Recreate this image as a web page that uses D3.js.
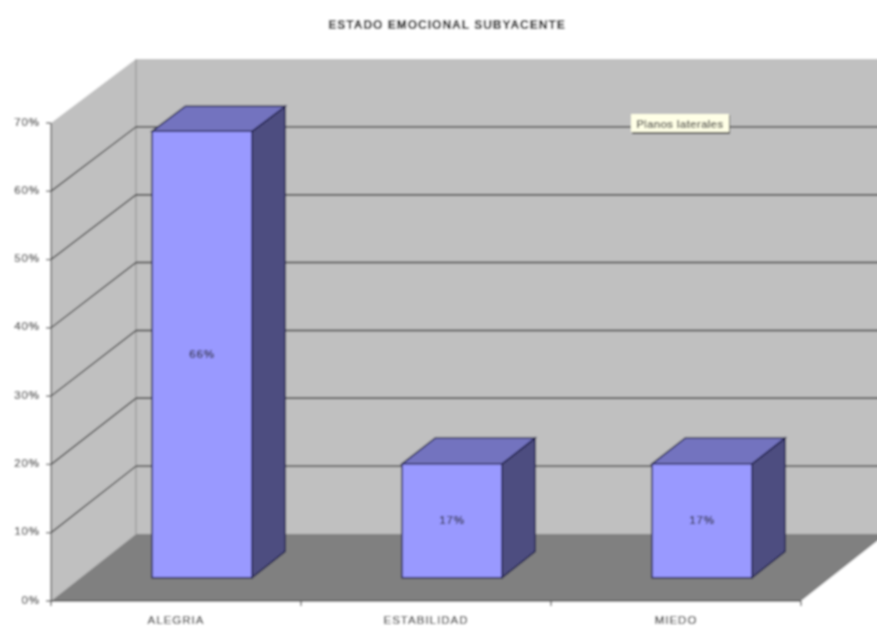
<!DOCTYPE html>
<html><head><meta charset="utf-8">
<style>html,body{margin:0;padding:0;background:#fff}svg{display:block}text{font-family:"Liberation Sans",Arial,sans-serif;stroke:currentColor;stroke-width:.15}</style>
<script src="https://cdn.jsdelivr.net/npm/d3@7"></script></head>
<body><script>
const categories = ["ALEGRIA", "ESTABILIDAD", "MIEDO"];
const values = [65.5, 16.7, 16.7];
const valueLabels = ["66%", "17%", "17%"];
const yTicks = [0, 10, 20, 30, 40, 50, 60, 70];
const titleText = "ESTADO EMOCIONAL SUBYACENTE";
const noteText = "Planos laterales";

const W = 877, H = 626;
const svg = d3.select("body").append("svg").attr("width", W).attr("height", H);
const defs = svg.append("defs");
defs.append("filter").attr("id", "soft").attr("x", 0).attr("y", 0).attr("width", 1).attr("height", 1)
  .append("feGaussianBlur").attr("stdDeviation", 0.8);
const root = svg.append("g").attr("filter", "url(#soft)");
root.append("rect").attr("width", W).attr("height", H).attr("fill", "#fff");

const y = d3.scaleLinear().domain([0, 70]).range([601, 123]);
const yBack = d3.scaleLinear().domain([0, 70]).range([534, 59]);
const xAxis = d3.scaleBand().domain(categories).range([51, 801]);
const xBar = d3.scaleBand().domain(categories).range([47.4, 797.4]).paddingInner(0.6).paddingOuter(0.3);
const depthX = d3.scaleLinear().domain([0, 1]).range([0, 85]);
const P = (px, v, d) => [px + depthX(d), y(v) * (1 - d) + yBack(v) * d];
const poly = pts => "M" + pts.map(p => p.join(",")).join("L") + "Z";
const xL = xAxis.range()[0], xR = xAxis.range()[1];

const g = root.append("g");
g.append("path").attr("d", poly([P(xL,0,1), P(xL,70,1), P(xR,70,1), P(xR,0,1)])).attr("fill", "#c0c0c0");
g.append("path").attr("d", poly([P(xL,0,0), P(xL,70,0), P(xL,70,1), P(xL,0,1)])).attr("fill", "#c0c0c0");
g.append("path").attr("d", poly([P(xL,0,0), P(xL,0,1), P(xR,0,1), P(xR,0,0)])).attr("fill", "#808080");
g.append("line").attr("x1", P(xL,0,1)[0]).attr("y1", P(xL,0,1)[1]).attr("x2", P(xL,70,1)[0]).attr("y2", P(xL,70,1)[1])
  .attr("stroke", "#8f8f8f").attr("stroke-width", 1);
const grid = yTicks.filter(t => t > 0 && t < 70);
g.selectAll(".gs").data(grid).join("line")
  .attr("x1", d => P(xL,d,0)[0]).attr("y1", d => P(xL,d,0)[1])
  .attr("x2", d => P(xL,d,1)[0]).attr("y2", d => P(xL,d,1)[1])
  .attr("stroke", "#2a2a2a").attr("stroke-width", 1.2);
g.selectAll(".gb").data(grid).join("line")
  .attr("x1", d => P(xL,d,1)[0]).attr("y1", d => P(xL,d,1)[1])
  .attr("x2", d => P(xR,d,1)[0]).attr("y2", d => P(xR,d,1)[1])
  .attr("stroke", "#2a2a2a").attr("stroke-width", 1.4);
const ax = root.append("g").attr("stroke", "#555").attr("stroke-width", 1.3);
ax.append("line").attr("x1", xL).attr("x2", xL).attr("y1", y(70)).attr("y2", y(0));
ax.append("line").attr("x1", xL).attr("x2", xR).attr("y1", y(0)).attr("y2", y(0));
ax.selectAll(".ty").data(yTicks).join("line").attr("x1", xL-5).attr("x2", xL).attr("y1", d => y(d)).attr("y2", d => y(d));
ax.selectAll(".tx").data([...categories.map(c => xAxis(c)), xR]).join("line")
  .attr("x1", d => d).attr("x2", d => d).attr("y1", y(0)).attr("y2", y(0)+5);
root.selectAll(".yl").data(yTicks).join("text")
  .attr("x", 40).attr("y", d => y(d)+2.5).attr("text-anchor", "end")
  .attr("font-size", 11.5).attr("letter-spacing", 0.9).attr("fill", "#222").style("color", "#222").text(d => d + "%");
root.selectAll(".xl").data(categories).join("text")
  .attr("x", d => xAxis(d) + xAxis.bandwidth()/2).attr("y", 624).attr("text-anchor", "middle")
  .attr("font-size", 11.5).attr("letter-spacing", 1).attr("fill", "#222").style("color", "#222").text(d => d);

const d0 = 0.348, d1 = 0.74;
const bars = root.selectAll(".bar").data(categories.map((c,i) => ({c, v: values[i], l: valueLabels[i]}))).join("g");
const edge = "#1e1e48";
bars.append("path").attr("d", b => {
  const a = xBar(b.c), e = a + xBar.bandwidth();
  return poly([P(e,0,d0), P(e,b.v,d0), P(e,b.v,d1), P(e,0,d1)]);
}).attr("fill", "#4d4d80").attr("stroke", edge).attr("stroke-width", 1.4);
bars.append("path").attr("d", b => {
  const a = xBar(b.c), e = a + xBar.bandwidth();
  return poly([P(a,b.v,d0), P(a,b.v,d1), P(e,b.v,d1), P(e,b.v,d0)]);
}).attr("fill", "#7373bf").attr("stroke", edge).attr("stroke-width", 1.4);
bars.append("path").attr("d", b => {
  const a = xBar(b.c), e = a + xBar.bandwidth();
  return poly([P(a,0,d0), P(a,b.v,d0), P(e,b.v,d0), P(e,0,d0)]);
}).attr("fill", "#9999ff").attr("stroke", edge).attr("stroke-width", 1.4);
bars.append("text").attr("text-anchor", "middle")
  .attr("x", b => P(xBar(b.c) + xBar.bandwidth()/2, 0, d0)[0])
  .attr("y", b => (P(0,0,d0)[1] + P(0,b.v,d0)[1])/2 + 3)
  .attr("font-size", 11.5).attr("letter-spacing", 0.8).attr("fill", "#222").style("color", "#222").text(b => b.l);

root.append("text").attr("x", 447).attr("y", 29).attr("text-anchor", "middle")
  .attr("font-size", 12).attr("letter-spacing", 1).attr("font-weight", "bold").attr("fill", "#000").style("color", "#000").text(titleText);

const note = root.append("g");
note.append("rect").attr("x", 632).attr("y", 115).attr("width", 98).attr("height", 19).attr("fill", "#4a4a4a");
note.append("rect").attr("x", 631).attr("y", 114).attr("width", 98).attr("height", 18).attr("fill", "#ffffe6");
note.append("text").attr("x", 680).attr("y", 128).attr("text-anchor", "middle")
  .attr("font-size", 11).attr("letter-spacing", 0.55).attr("fill", "#222").style("color", "#222").text(noteText);
</script></body></html>
